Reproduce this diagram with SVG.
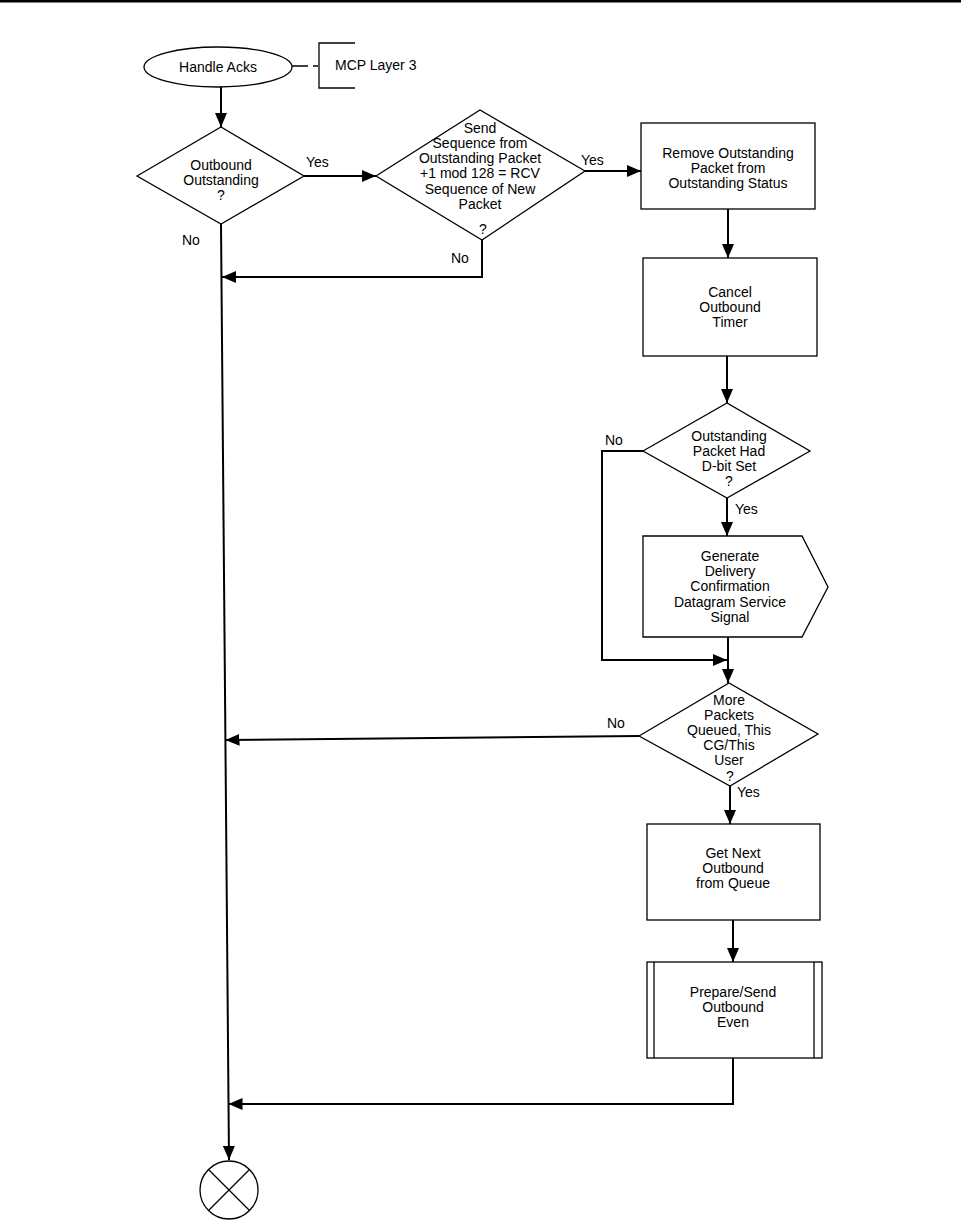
<svg xmlns="http://www.w3.org/2000/svg" width="961" height="1224" viewBox="0 0 961 1224">
<style>
.s{fill:#fff;stroke:#000;stroke-width:1.3}
.c{fill:none;stroke:#000;stroke-width:2}
.t{font-family:"Liberation Sans",Arial,sans-serif;font-size:14px;fill:#000;text-anchor:middle}
.l{font-family:"Liberation Sans",Arial,sans-serif;font-size:14px;fill:#000}
</style>
<defs>
<marker id="a" markerUnits="userSpaceOnUse" markerWidth="14" markerHeight="12" viewBox="0 0 14 12" refX="14" refY="6" orient="auto">
<path d="M0,0 L14,6 L0,12 Z" fill="#000"/>
</marker>
</defs>
<rect x="0" y="0" width="961" height="2.5" fill="#000"/>
<g id="connectors">
<path class="c" d="M221,87 V127" marker-end="url(#a)"/>
<path class="c" d="M304,176 H376" marker-end="url(#a)"/>
<path class="c" d="M585,171 H641" marker-end="url(#a)"/>
<path class="c" d="M482,240 V277 H222" marker-end="url(#a)"/>
<path class="c" d="M221,224 L229,1160" marker-end="url(#a)"/>
<path class="c" d="M728,209 V258" marker-end="url(#a)"/>
<path class="c" d="M727,356 V403" marker-end="url(#a)"/>
<path class="c" d="M727,498 V536" marker-end="url(#a)"/>
<path class="c" d="M643,451 H602 V660 H727" marker-end="url(#a)"/>
<path class="c" d="M728,637 V683" marker-end="url(#a)"/>
<path class="c" d="M639,736 L225.5,740" marker-end="url(#a)"/>
<path class="c" d="M730,786 V824" marker-end="url(#a)"/>
<path class="c" d="M733,920 V962" marker-end="url(#a)"/>
<path class="c" d="M733,1058 V1104 H228.5" marker-end="url(#a)"/>
<path fill="none" stroke="#000" stroke-width="1.3" d="M292,66 H308 M313,66 H318"/>
</g>
<g id="handle-acks">
<ellipse class="s" cx="218" cy="67" rx="74" ry="20"/>
<text class="t" x="218" y="72">Handle Acks</text>
</g>
<g id="mcp-layer3">
<path fill="none" stroke="#000" stroke-width="1.3" d="M355,43 H319 V88 H355"/>
<text class="l" x="335" y="70">MCP Layer 3</text>
</g>
<g id="d-outbound">
<polygon class="s" points="137,176 221,127 304,176 221,224"/>
<text class="t" x="221" y="170">Outbound</text>
<text class="t" x="221" y="185">Outstanding</text>
<text class="t" x="221" y="200">?</text>
</g>
<g id="d-sequence">
<polygon class="s" points="376,176 480,110 585,171 482,240"/>
<text class="t" x="480" y="133">Send</text>
<text class="t" x="480" y="148">Sequence from</text>
<text class="t" x="480" y="163">Outstanding Packet</text>
<text class="t" x="480" y="178">+1 mod 128 = RCV</text>
<text class="t" x="480" y="194">Sequence of New</text>
<text class="t" x="480" y="209">Packet</text>
<text class="t" x="483" y="234">?</text>
</g>
<g id="r-remove">
<rect class="s" x="641" y="123" width="174" height="86"/>
<text class="t" x="728" y="158">Remove Outstanding</text>
<text class="t" x="728" y="173">Packet from</text>
<text class="t" x="728" y="188">Outstanding Status</text>
</g>
<g id="r-cancel">
<rect class="s" x="643" y="258" width="174" height="98"/>
<text class="t" x="730" y="297">Cancel</text>
<text class="t" x="730" y="312">Outbound</text>
<text class="t" x="730" y="327">Timer</text>
</g>
<g id="d-dbit">
<polygon class="s" points="643,451 727,403 810,451 727,498"/>
<text class="t" x="729" y="441">Outstanding</text>
<text class="t" x="729" y="456">Packet Had</text>
<text class="t" x="729" y="471">D-bit Set</text>
<text class="t" x="729" y="486">?</text>
</g>
<g id="p-generate">
<polygon class="s" points="643,536 802,536 828,587 802,637 643,637"/>
<text class="t" x="730" y="561">Generate</text>
<text class="t" x="730" y="576">Delivery</text>
<text class="t" x="730" y="591">Confirmation</text>
<text class="t" x="730" y="607">Datagram Service</text>
<text class="t" x="730" y="622">Signal</text>
</g>
<g id="d-more">
<polygon class="s" points="639,736 729,683 818,734 730,786"/>
<text class="t" x="729" y="705">More</text>
<text class="t" x="729" y="720">Packets</text>
<text class="t" x="729" y="735">Queued, This</text>
<text class="t" x="729" y="750">CG/This</text>
<text class="t" x="729" y="765">User</text>
<text class="t" x="730" y="781">?</text>
</g>
<g id="r-getnext">
<rect class="s" x="647" y="824" width="173" height="96"/>
<text class="t" x="733" y="858">Get Next</text>
<text class="t" x="733" y="873">Outbound</text>
<text class="t" x="733" y="888">from Queue</text>
</g>
<g id="r-prepare">
<rect class="s" x="647" y="962" width="175" height="96"/>
<line class="s" x1="654" y1="962" x2="654" y2="1058"/>
<line class="s" x1="814" y1="962" x2="814" y2="1058"/>
<text class="t" x="733" y="997">Prepare/Send</text>
<text class="t" x="733" y="1012">Outbound</text>
<text class="t" x="733" y="1027">Even</text>
</g>
<g id="end">
<circle class="s" cx="229" cy="1190" r="29"/>
<path fill="none" stroke="#000" stroke-width="1.3" d="M208.5,1169.5 L249.5,1210.5 M249.5,1169.5 L208.5,1210.5"/>
</g>
<g id="labels">
<text class="l" x="306" y="167">Yes</text>
<text class="l" x="581" y="165">Yes</text>
<text class="l" x="182" y="245">No</text>
<text class="l" x="451" y="263">No</text>
<text class="l" x="605" y="445">No</text>
<text class="l" x="735" y="514">Yes</text>
<text class="l" x="607" y="728">No</text>
<text class="l" x="737" y="797">Yes</text>
</g>
</svg>
